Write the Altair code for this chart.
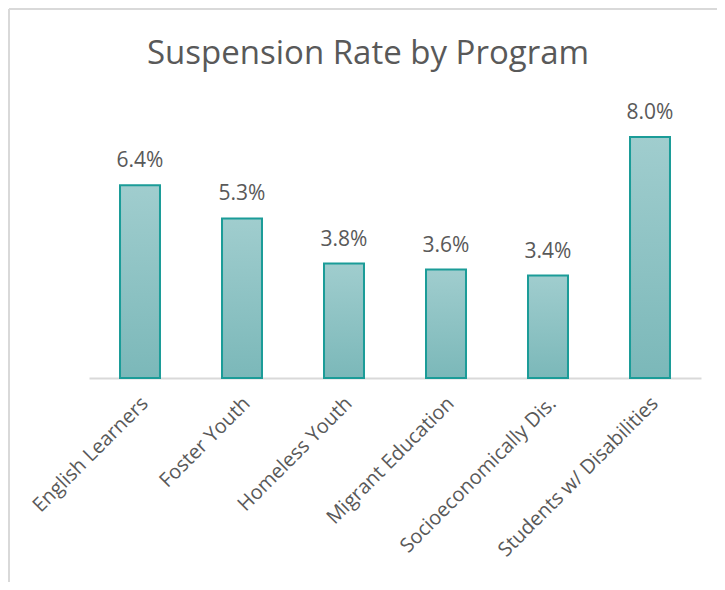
import altair as alt
import pandas as pd

programs = ["English Learners", "Foster Youth", "Homeless Youth",
            "Migrant Education", "Socioeconomically Dis.", "Students w/ Disabilities"]
rates = [6.4, 5.3, 3.8, 3.6, 3.4, 8.0]
labels = ["6.4%", "5.3%", "3.8%", "3.6%", "3.4%", "8.0%"]
title_text = ["Suspension Rate by Program"]

df = pd.DataFrame({"program": programs, "rate": rates, "label": labels})
tdf = pd.DataFrame({"t": title_text})

FONT = "Open Sans"
TEXT = "#595959"

x = alt.X("program:N", sort=programs, title=None,
          scale=alt.Scale(paddingInner=0.608, paddingOuter=0.304),
          axis=alt.Axis(labelAngle=-45, labelAlign="right", labelBaseline="middle",
                        labelFontSize=20, labelFont=FONT, labelColor=TEXT,
                        labelPadding=22, labelOffset=5, ticks=False,
                        domainColor="#d9d9d9", domainWidth=2, grid=False,
                        labelLimit=400))
y = alt.Y("rate:Q", title=None, scale=alt.Scale(domain=[0, 9], nice=False),
          axis=None)

gradient = alt.Gradient(
    gradient="linear",
    stops=[alt.GradientStop(color="#a0cdce", offset=0),
           alt.GradientStop(color="#7bb8b9", offset=1)],
    x1=0, x2=0, y1=0, y2=1)

bars = alt.Chart(df).mark_bar(fill=gradient, stroke="#1b9c98", strokeWidth=2).encode(x=x, y=y)
text = alt.Chart(df).mark_text(font=FONT, fontSize=21, color=TEXT, dy=-18,
                               baseline="alphabetic").encode(x=x, y=y, text="label:N")

# chart title, centred over the whole chart frame
title = alt.Chart(tdf).mark_text(font=FONT, fontSize=33, color=TEXT, align="center",
                                 baseline="alphabetic").encode(
    x=alt.value(279), y=alt.value(-43), text="t:N")

# light frame around the whole chart
frame_left = alt.Chart(tdf).mark_rule(color="#d9d9d9", strokeWidth=2).encode(
    x=alt.value(-80), y=alt.value(-98), y2=alt.value(500))
frame_top = alt.Chart(tdf).mark_rule(color="#d9d9d9", strokeWidth=2).encode(
    x=alt.value(-80), x2=alt.value(640), y=alt.value(-98))

chart = alt.layer(frame_left, frame_top, bars, text, title).properties(
    width=612, height=271,
    padding={"left": 81, "top": 99, "right": 16, "bottom": 204},
    autosize=alt.AutoSizeParams(type="none"),
).configure(background="white").configure_view(stroke=None)

chart.save("out.html", embed_options={"renderer": "svg", "actions": False})
